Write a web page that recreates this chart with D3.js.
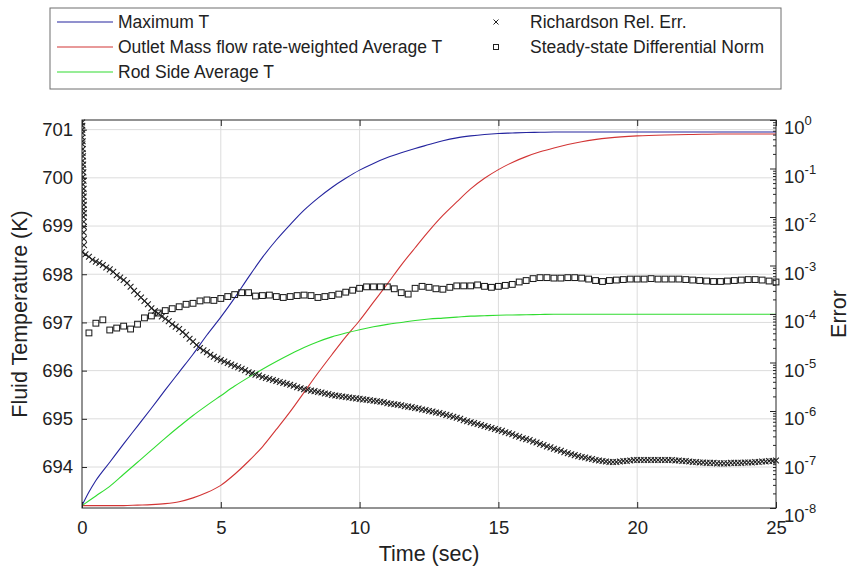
<!DOCTYPE html>
<html><head><meta charset="utf-8">
<script src="https://cdn.jsdelivr.net/npm/d3@7"></script>
<style>
body{margin:0;background:#fff}
text{font-family:"Liberation Sans",Arial,sans-serif;fill:#222}
</style>
</head><body><svg id="c" width="853" height="571"></svg>
<script>
// ---------------- data ----------------
const lineTime = [0,0.25,0.5,1,1.5,2,2.5,3,3.5,4,4.5,5,5.5,6,6.5,7,7.5,8,8.5,9,9.5,10,10.5,11,11.5,12,12.5,13,13.5,14,14.5,15,15.5,16,16.5,17,17.5,18,19,20,21,22,23,24,25];
const maximumT = [693.2,693.48,693.72,694.1,694.48,694.85,695.22,695.6,695.97,696.34,696.74,697.11,697.51,697.94,698.35,698.71,699.03,699.33,699.58,699.8,699.99,700.16,700.3,700.42,700.52,700.61,700.69,700.77,700.83,700.87,700.9,700.92,700.93,700.94,700.945,700.95,700.95,700.95,700.95,700.95,700.95,700.95,700.95,700.95,700.95];
const outletT = [693.2,693.2,693.2,693.2,693.2,693.21,693.22,693.24,693.28,693.36,693.47,693.62,693.85,694.12,694.42,694.78,695.15,695.55,695.95,696.33,696.7,697.04,697.42,697.8,698.19,698.55,698.9,699.22,699.5,699.77,699.99,700.17,700.32,700.44,700.54,700.62,700.69,700.75,700.83,700.87,700.89,700.9,700.91,700.91,700.91];
const rodSideT = [693.2,693.3,693.4,693.6,693.85,694.1,694.35,694.6,694.84,695.07,695.28,695.48,695.68,695.86,696.03,696.19,696.34,696.48,696.6,696.7,696.78,696.85,696.91,696.96,697.0,697.04,697.07,697.09,697.11,697.13,697.14,697.15,697.155,697.16,697.165,697.17,697.17,697.17,697.17,697.17,697.17,697.17,697.17,697.17,697.17];

// Richardson relative error: initial burst (very small times), then regular samples
const richardsonBurstTime = [0.004,0.012,0.006,0.018,0.01,0.024,0.014,0.03,0.02,0.036,0.026,0.042,0.03,0.048,0.036,0.054,0.04,0.058,0.046,0.062,0.05,0.066,0.054,0.07,0.058,0.064,0.07,0.06,0.066,0.072];
const richardsonBurstLog10 = [-0.05,-0.12,-0.2,-0.27,-0.36,-0.44,-0.5,-0.6,-0.68,-0.75,-0.84,-0.92,-1.0,-1.08,-1.17,-1.25,-1.33,-1.42,-1.5,-1.58,-1.67,-1.75,-1.84,-1.92,-2.0,-2.1,-2.2,-2.32,-2.45,-2.58];
const richardsonStep = 0.125;
const richardsonLog10 = [
-2.72,-2.77,-2.82,-2.88,-2.92,-2.95,-2.99,-3.04,-3.08,
-3.13,-3.20,-3.25,-3.30,-3.36,-3.44,-3.52,-3.59,
-3.66,-3.73,-3.80,-3.88,-3.94,-3.99,-4.05,-4.10,
-4.15,-4.21,-4.26,-4.31,-4.37,-4.43,-4.51,-4.57,
-4.64,-4.70,-4.75,-4.79,-4.84,-4.88,-4.92,-4.95,
-4.98,-5.01,-5.04,-5.07,-5.10,-5.13,-5.16,-5.20,
-5.22,-5.25,-5.27,-5.30,-5.32,-5.34,-5.36,-5.38,
-5.40,-5.42,-5.44,-5.46,-5.48,-5.51,-5.53,-5.55,
-5.56,-5.58,-5.59,-5.61,-5.62,-5.64,-5.65,-5.67,
-5.68,-5.69,-5.70,-5.71,-5.72,-5.73,-5.74,-5.75,
-5.76,-5.77,-5.78,-5.79,-5.80,-5.81,-5.82,-5.84,
-5.85,-5.86,-5.87,-5.88,-5.90,-5.91,-5.92,-5.94,
-5.95,-5.97,-5.98,-6.00,-6.01,-6.03,-6.04,-6.06,
-6.08,-6.10,-6.12,-6.14,-6.16,-6.19,-6.21,-6.23,
-6.25,-6.27,-6.29,-6.31,-6.33,-6.35,-6.37,-6.39,
-6.41,-6.44,-6.46,-6.48,-6.51,-6.53,-6.56,-6.58,
-6.60,-6.63,-6.65,-6.68,-6.70,-6.73,-6.75,-6.78,
-6.80,-6.82,-6.85,-6.87,-6.89,-6.91,-6.93,-6.95,
-6.96,-6.98,-6.99,-7.01,-7.02,-7.03,-7.04,-7.05,
-7.05,-7.05,-7.04,-7.03,-7.03,-7.02,-7.01,-7.01,
-7.01,-7.01,-7.01,-7.01,-7.01,-7.01,-7.01,-7.01,
-7.01,-7.01,-7.02,-7.02,-7.03,-7.03,-7.04,-7.05,
-7.05,-7.06,-7.06,-7.07,-7.07,-7.07,-7.08,-7.08,
-7.08,-7.08,-7.07,-7.07,-7.07,-7.07,-7.06,-7.06,
-7.06,-7.05,-7.05,-7.04,-7.04,-7.03,-7.03,-7.02];

// Steady-state differential norm, first sample at t = 0.25
const steadyStep = 0.25;
const steadyLog10 = [
-4.39,-4.19,-4.12,-4.33,-4.29,-4.25,-4.31,-4.21,
-4.08,-4.04,-3.98,-3.93,-3.89,-3.85,-3.80,-3.78,
-3.73,-3.71,-3.72,-3.68,-3.64,-3.60,-3.56,-3.56,
-3.63,-3.62,-3.61,-3.64,-3.66,-3.64,-3.62,-3.61,
-3.62,-3.66,-3.64,-3.62,-3.59,-3.55,-3.51,-3.47,
-3.44,-3.44,-3.44,-3.44,-3.48,-3.56,-3.59,-3.47,
-3.43,-3.45,-3.48,-3.49,-3.45,-3.42,-3.42,-3.42,
-3.40,-3.43,-3.45,-3.43,-3.41,-3.39,-3.34,-3.31,
-3.27,-3.25,-3.25,-3.26,-3.26,-3.25,-3.25,-3.26,
-3.28,-3.31,-3.33,-3.31,-3.30,-3.29,-3.28,-3.28,
-3.28,-3.27,-3.28,-3.28,-3.28,-3.28,-3.29,-3.30,
-3.31,-3.32,-3.33,-3.33,-3.32,-3.31,-3.30,-3.29,
-3.29,-3.30,-3.32,-3.34];

const xTicks = [0,5,10,15,20,25];
const leftTicks = [694,695,696,697,698,699,700,701];
const rightExps = [0,-1,-2,-3,-4,-5,-6,-7,-8];
const lineLegend = ["Maximum T","Outlet Mass flow rate-weighted Average T","Rod Side Average T"];
const markerLegend = ["Richardson Rel. Err.","Steady-state Differential Norm"];
const lineColors = ["#24249e","#d23535","#30dc30"];

// ---------------- layout ----------------
const PL=82, PR=776, PT=120, PB=508;
const svg = d3.select("#c");
const x = d3.scaleLinear().domain([0,25]).range([PL,PR]);
const yL = d3.scaleLinear().domain([693.15,701.2]).range([PB,PT]);
const yR = d3.scaleLog().domain([1e-8,1]).range([PB,PT]);

svg.append("defs").append("clipPath").attr("id","clip")
  .append("rect").attr("x",PL).attr("y",PT-4).attr("width",PR-PL+4).attr("height",PB-PT+4);

// grid
const grid = svg.append("g").attr("stroke","#dcdcdc").attr("stroke-width",1);
xTicks.filter(d=>d>0&&d<25).forEach(d=>grid.append("line").attr("x1",x(d)).attr("x2",x(d)).attr("y1",PT).attr("y2",PB));
leftTicks.forEach(d=>grid.append("line").attr("x1",PL).attr("x2",PR).attr("y1",yL(d)).attr("y2",yL(d)));

// lines
const plot = svg.append("g").attr("clip-path","url(#clip)");
[maximumT,outletT,rodSideT].forEach((s,i)=>{
  const line = d3.line().x((d,j)=>x(lineTime[j])).y(d=>yL(d)).curve(d3.curveMonotoneX);
  plot.append("path").attr("d",line(s)).attr("fill","none").attr("stroke",lineColors[i]).attr("stroke-width",1.1);
});

// markers
const xPath = "M-2.9,-2.9L2.9,2.9M-2.9,2.9L2.9,-2.9";
const mk = plot.append("g").attr("fill","none").attr("stroke","#1e1e1e").attr("stroke-width",1.05);
richardsonBurstLog10.forEach((v,i)=>{
  mk.append("path").attr("d",xPath).attr("transform",`translate(${x(richardsonBurstTime[i])},${yR(Math.pow(10,v))})`);
});
richardsonLog10.forEach((v,i)=>{
  mk.append("path").attr("d",xPath).attr("transform",`translate(${x(i*richardsonStep)},${yR(Math.pow(10,v))})`);
});
steadyLog10.forEach((v,i)=>{
  const cx = x((i+1)*steadyStep), cy = yR(Math.pow(10,v));
  mk.append("rect").attr("x",cx-2.9).attr("y",cy-2.9).attr("width",5.8).attr("height",5.8);
});

// axes
const axC = "#262626";
const gBottom = svg.append("g").attr("transform",`translate(0,${PB})`)
  .call(d3.axisBottom(x).tickValues(xTicks).tickSizeInner(-6).tickSizeOuter(0).tickPadding(13));
const gLeft = svg.append("g").attr("transform",`translate(${PL},0)`)
  .call(d3.axisLeft(yL).tickValues(leftTicks).tickSizeInner(-5).tickSizeOuter(0).tickPadding(9));
const gTop = svg.append("g").attr("transform",`translate(0,${PT})`)
  .call(d3.axisTop(x).tickValues(xTicks).tickSizeInner(-6).tickSizeOuter(0).tickFormat(""));
const minorVals = [];
rightExps.forEach(e=>{ if(e<0){ for(let k=2;k<=9;k++) minorVals.push(k*Math.pow(10,e)); }});
const gRightMinor = svg.append("g").attr("transform",`translate(${PR},0)`)
  .call(d3.axisRight(yR).tickValues(minorVals).tickSizeInner(-3).tickSizeOuter(0).tickFormat(""));
const gRightMajor = svg.append("g").attr("transform",`translate(${PR},0)`)
  .call(d3.axisRight(yR).tickValues(rightExps.map(e=>Math.pow(10,e))).tickSizeInner(-6).tickSizeOuter(0).tickFormat(""));
[gBottom,gLeft,gTop,gRightMinor,gRightMajor].forEach(g=>{
  g.select(".domain").remove();
  g.selectAll(".tick line").attr("stroke",axC);
  g.selectAll(".tick text").attr("font-size",18.5).attr("font-family",'"Liberation Sans",Arial,sans-serif').attr("fill","#222");
});
// right labels with superscripts
const rl = svg.append("g");
rightExps.forEach(e=>{
  const t = rl.append("text").attr("x",PR+8).attr("y",yR(Math.pow(10,e))+14).attr("font-size",18.5);
  t.append("tspan").text("10");
  t.append("tspan").attr("dy",-9).attr("font-size",13).text(String(e));
});
// box
svg.append("rect").attr("x",PL).attr("y",PT).attr("width",PR-PL).attr("height",PB-PT)
  .attr("fill","none").attr("stroke",axC).attr("stroke-width",1);

// axis titles
svg.append("text").attr("x",(PL+PR)/2).attr("y",561).attr("text-anchor","middle").attr("font-size",21.5).text("Time (sec)");
svg.append("text").attr("transform",`translate(27,${(PT+PB)/2}) rotate(-90)`).attr("text-anchor","middle").attr("font-size",21.5).text("Fluid Temperature (K)");
svg.append("text").attr("transform",`translate(846,${(PT+PB)/2}) rotate(-90)`).attr("text-anchor","middle").attr("font-size",21.5).text("Error");

// legend
const lg = svg.append("g");
lg.append("rect").attr("x",50).attr("y",8).attr("width",731).attr("height",81).attr("fill","#fff").attr("stroke","#6e6e6e").attr("stroke-width",1);
const rowY = [22,47,72];
lineLegend.forEach((lab,i)=>{
  lg.append("line").attr("x1",57).attr("x2",113).attr("y1",rowY[i]).attr("y2",rowY[i]).attr("stroke",lineColors[i]).attr("stroke-width",1.1);
  lg.append("text").attr("x",118).attr("y",rowY[i]+6).attr("font-size",17.5).text(lab);
});
lg.append("path").attr("d","M-2.5,-2.5L2.5,2.5M-2.5,2.5L2.5,-2.5").attr("transform",`translate(496,${rowY[0]})`).attr("stroke","#222").attr("fill","none");
lg.append("rect").attr("x",493.5).attr("y",rowY[1]-2.5).attr("width",5).attr("height",5).attr("stroke","#222").attr("fill","none");
markerLegend.forEach((lab,i)=>{
  lg.append("text").attr("x",530).attr("y",rowY[i]+6).attr("font-size",17.5).text(lab);
});
</script>
</body></html>
